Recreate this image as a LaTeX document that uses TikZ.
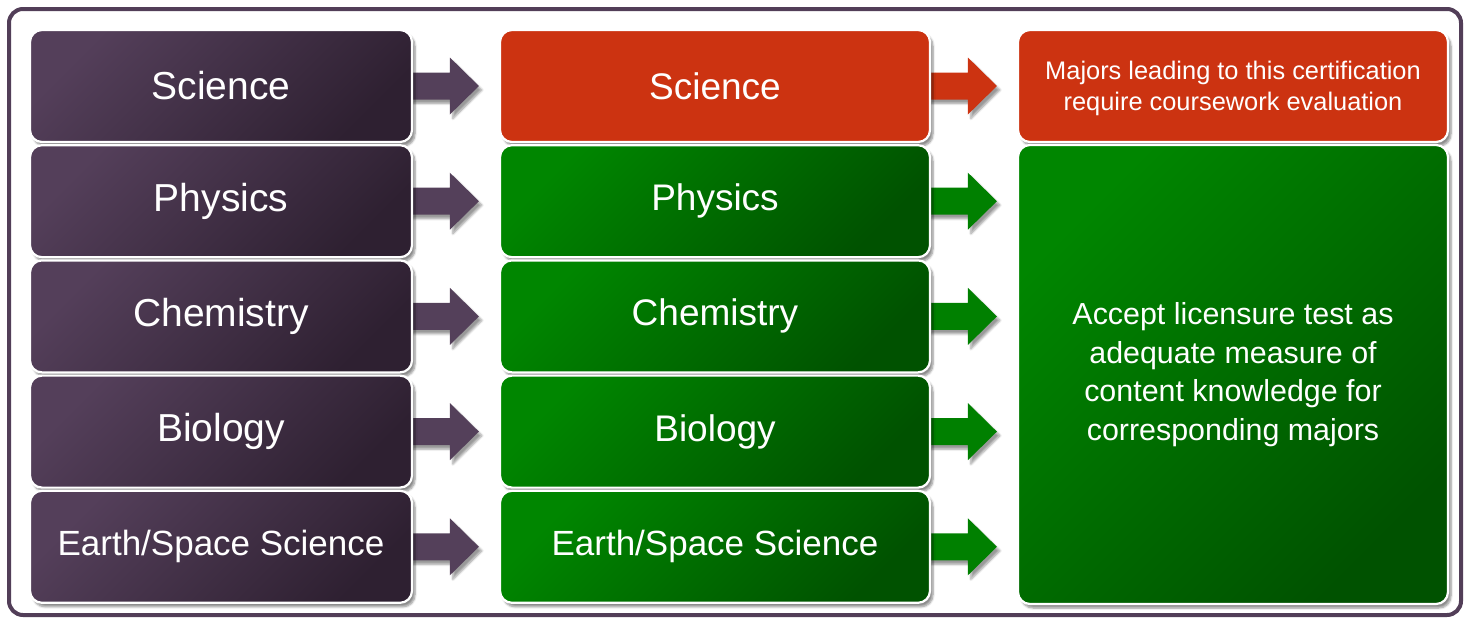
\documentclass[tikz,border=0pt]{standalone}
\usepackage{fontspec}
\setmainfont{Liberation Sans}
\usetikzlibrary{calc,shadows,shadows.blur}
\pgfdeclarelayer{background}
\pgfsetlayers{background,main}
\definecolor{purA}{RGB}{84,63,90}
\definecolor{purB}{RGB}{46,32,49}
\definecolor{purArrow}{RGB}{84,64,90}
\definecolor{frameCol}{RGB}{82,62,88}
\definecolor{redBox}{RGB}{204,51,17}
\definecolor{grnA}{RGB}{0,134,0}
\definecolor{grnB}{RGB}{0,82,0}
\definecolor{grnArrow}{RGB}{0,128,0}
\tikzset{
  box/.style={rounded corners=12pt, draw=white, line width=2.2pt, text=white,
    align=center, minimum height=112pt, inner sep=0pt,
    blur shadow={shadow xshift=3pt, shadow yshift=-4pt, shadow blur steps=6, shadow opacity=45}},
  purplebox/.style={box, minimum width=382pt, top color=purA, bottom color=purB, shading angle=45,
    font=\fontsize{39}{44}\selectfont},
  greenbox/.style={box, minimum width=430pt, top color=grnA, bottom color=grnB, shading angle=45,
    font=\fontsize{37}{42}\selectfont},
  redbox/.style={box, minimum width=430pt, fill=redBox, font=\fontsize{37}{42}\selectfont},
  arrowshape/.style={blur shadow={shadow xshift=3pt, shadow yshift=-4pt, shadow blur steps=6, shadow opacity=40}},
  frame/.style={draw=frameCol, line width=4pt, rounded corners=14pt, inner sep=0pt}
}
\newcommand{\flowarrow}[3]{%
  \coordinate (t) at (#1.east -| #2.west);
  \fill[#3, arrowshape] ($(#1.east)+(-4,-13.5)$) -- ($(t)+(-49,-13.5)$) -- ($(t)+(-49,-28.5)$)
    -- ($(t)+(-20,0)$) -- ($(t)+(-49,28.5)$) -- ($(t)+(-49,13.5)$) -- ($(#1.east)+(-4,13.5)$) -- cycle;
}
\begin{document}
\begin{tikzpicture}[x=1pt,y=-1pt]
\useasboundingbox (0,0) rectangle (1464,619);
\node[frame, minimum width=1452pt, minimum height=606pt] (frm) at (735,312) {};

% column 1
\node[purplebox] (p1) at (221,86) {Science};
\node[purplebox] (p2) at (221,201.2) {Physics};
\node[purplebox] (p3) at (221,316.4) {Chemistry};
\node[purplebox] (p4) at (221,431.6) {Biology};
\node[purplebox, font=\fontsize{35}{40}\selectfont] (p5) at (221,546.8) {Earth/Space Science};

% column 2
\node[redbox] (g1) at (715,86) {Science};
\node[greenbox] (g2) at (715,201.2) {Physics};
\node[greenbox] (g3) at (715,316.4) {Chemistry};
\node[greenbox] (g4) at (715,431.6) {Biology};
\node[greenbox, font=\fontsize{35}{40}\selectfont] (g5) at (715,546.8) {Earth/Space Science};

% column 3
\node[redbox, font=\fontsize{25.4}{31}\selectfont] (r1) at (1233,86) {\raisebox{-3pt}[\height][\depth]{\begin{tabular}{@{}c@{}}Majors leading to this certification\\require coursework evaluation\end{tabular}}};
\node[greenbox, minimum height=459pt, font=\fontsize{30.4}{38.5}\selectfont] (big) at (1233,374.5)
  {Accept licensure test as\\adequate measure of\\content knowledge for\\corresponding majors};

\begin{pgfonlayer}{background}
\flowarrow{p1}{g1}{purArrow}
\flowarrow{p2}{g2}{purArrow}
\flowarrow{p3}{g3}{purArrow}
\flowarrow{p4}{g4}{purArrow}
\flowarrow{p5}{g5}{purArrow}
\flowarrow{g1}{r1}{redBox}
\flowarrow{g2}{big}{grnArrow}
\flowarrow{g3}{big}{grnArrow}
\flowarrow{g4}{big}{grnArrow}
\flowarrow{g5}{big}{grnArrow}
\end{pgfonlayer}
\end{tikzpicture}
\end{document}
